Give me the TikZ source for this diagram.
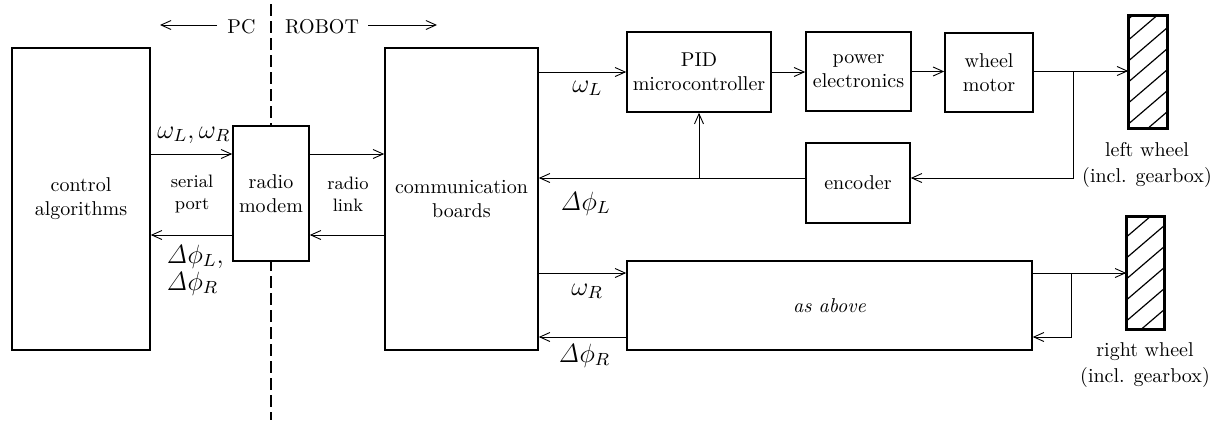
\documentclass[tikz,border=0pt]{standalone}
\usetikzlibrary{arrows.meta}
\begin{document}
\begin{tikzpicture}[x=0.5pt,y=-0.5pt,
  box/.style={draw, line width=0.8pt, inner sep=0pt, align=center, fill=white},
  arr/.style={line width=0.45pt, -{Straight Barb[length=5pt,width=4.5pt]}},
  conn/.style={line width=0.45pt},
  lbl/.style={inner sep=0pt, font=\large, scale=1.1},
  sm/.style={align=center, font=\small},
  wheel/.style={draw, line width=0.8pt, inner sep=0pt},
  hatch/.style={line width=0.6pt},
  wlbl/.style={align=center, inner sep=0pt, font=\normalsize}]
\useasboundingbox (0,0) rectangle (1212,424);
% PC / ROBOT separation
\coordinate (dtop) at (271,4);
\coordinate (dbot) at (271,420);
\draw[line width=0.8pt, dash pattern=on 6pt off 2.5pt] (dtop) -- (dbot);
\node[anchor=base, inner sep=0pt] (pc) at (241.5,33) {PC};
\node[anchor=base, inner sep=0pt] (robot) at (322,33) {ROBOT};
\coordinate (pcA) at (217,25); \coordinate (pcB) at (160,25);
\coordinate (roA) at (368,25); \coordinate (roB) at (437,25);
\draw[arr] (pcA) -- (pcB);
\draw[arr] (roA) -- (roB);
% boxes
\node[box, minimum width=69pt, minimum height=151pt] (ctrl) at (81,199) {control\\algorithms};
\node[box, minimum width=38pt, minimum height=67.5pt] (modem) at (271,193.5) {radio\\modem};
\node[box, minimum width=76.5pt, minimum height=151pt] (comm) at (461.5,199) {communication\\boards};
\node[box, minimum width=72pt, minimum height=40pt] (pid) at (699,72) {PID\\microcontroller};
\node[box, minimum width=52.5pt, minimum height=39.5pt] (power) at (858.5,71.5) {power\\electronics};
\node[box, minimum width=44pt, minimum height=39.5pt] (motor) at (989,72.5) {wheel\\motor};
\node[box, minimum width=52pt, minimum height=40pt] (enc) at (858,183) {encoder};
\node[box, minimum width=202.5pt, minimum height=44.5pt] (above) at (829.5,305.5) {\textit{as above}};
% wheels
\node[wheel, minimum width=19pt, minimum height=56pt] (lw) at (1148,72) {};
\node[wheel, minimum width=18.5pt, minimum height=56pt] (rw) at (1145.5,273) {};
\begin{scope}
\clip (lw.south west) rectangle (lw.north east);
\foreach \k in {0,...,9} \draw[hatch] ([yshift={-(\k*10.5pt+2pt)}]lw.north west) -- ++(70,-60);
\end{scope}
\begin{scope}
\clip (rw.south west) rectangle (rw.north east);
\foreach \k in {0,...,9} \draw[hatch] ([yshift={-(\k*10.5pt+0pt)}]rw.north west) -- ++(70,-60);
\end{scope}
\draw[line width=0.8pt] (lw.south west) rectangle (lw.north east);
\draw[line width=0.8pt] (rw.south west) rectangle (rw.north east);
\node[wlbl] (lwl) at (1147,165) {left wheel\\[1pt](incl. gearbox)};
\node[wlbl] (rwl) at (1145,365) {right wheel\\[1pt](incl. gearbox)};
% PC side connectors
\draw[arr] (ctrl.east |- 0,154) -- (modem.west |- 0,154);
\draw[arr] (modem.west |- 0,235) -- (ctrl.east |- 0,235);
\draw[arr] (modem.east |- 0,154) -- (comm.west |- 0,154);
\draw[arr] (comm.west |- 0,235) -- (modem.east |- 0,235);
\node[sm] (serial) at (192,194) {serial\\port};
\node[sm] (rlink) at (348,194) {radio\\link};
\node[lbl, anchor=base west] (wLR) at (157,138) {$\omega_L,\omega_R$};
\node[lbl, anchor=base west] (dL1) at (166,263) {$\mathit{\Delta}\phi_L,$};
\node[lbl, anchor=base west] (dR1) at (166,290) {$\mathit{\Delta}\phi_R$};
% left wheel chain
\draw[arr] (comm.east |- 0,72) -- (pid.west |- 0,72);
\draw[arr] (pid.east |- 0,72) -- (power.west |- 0,72);
\draw[arr] (power.east |- 0,71.5) -- (motor.west |- 0,71.5);
\draw[arr] (motor.east |- 0,71) -- (lw.west |- 0,71);
\coordinate (jL) at (1073,71);
\draw[arr] (jL) |- (enc.east |- 0,178);
\draw[arr] (enc.west |- 0,178) -- (comm.east |- 0,178);
\draw[arr] (pid.south |- 0,178) -- (pid.south);
\node[lbl, anchor=base west] (wL) at (572,92) {$\omega_L$};
\node[lbl, anchor=base west] (dL2) at (560,210) {$\mathit{\Delta}\phi_L$};
% right wheel chain
\draw[arr] (comm.east |- 0,273) -- (above.west |- 0,273);
\draw[arr] (above.west |- 0,337) -- (comm.east |- 0,337);
\draw[arr] (above.east |- 0,273) -- (rw.west |- 0,273);
\coordinate (jR) at (1071,273);
\draw[arr] (jR) |- (above.east |- 0,337);
\node[lbl, anchor=base west] (wR) at (571,295) {$\omega_R$};
\node[lbl, anchor=base west] (dR2) at (558,362) {$\mathit{\Delta}\phi_R$};
\end{tikzpicture}
\end{document}
